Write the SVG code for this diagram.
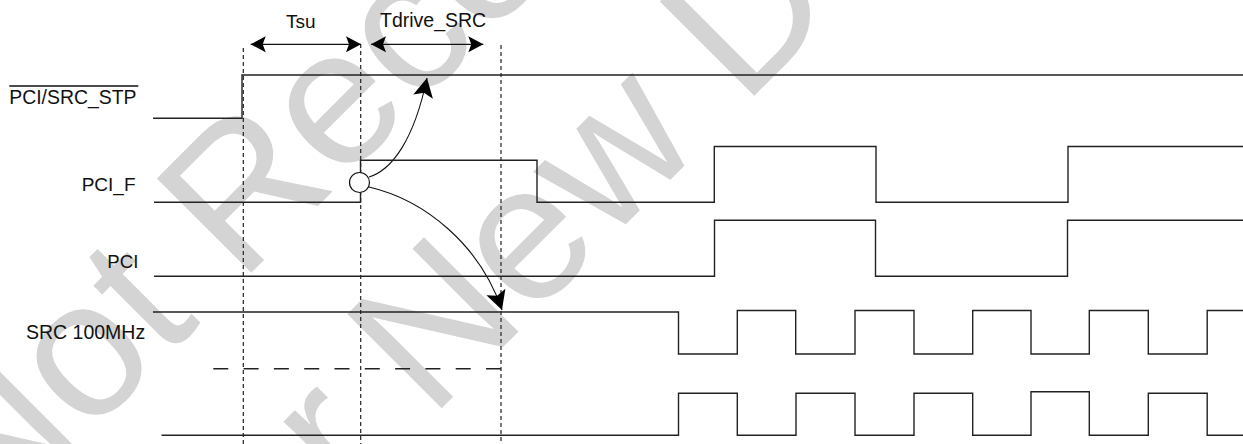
<svg xmlns="http://www.w3.org/2000/svg" width="1243" height="444" viewBox="0 0 1243 444">
<style>
.wm{font-family:"Liberation Sans",Arial,sans-serif;font-size:194px;fill:#d4d4d4}
.lbl{font-family:"Liberation Sans",Arial,sans-serif;font-size:19px;fill:#111}
.sig{fill:none;stroke:#222;stroke-width:1.4}
.grid{fill:none;stroke:#222;stroke-width:1.2;stroke-dasharray:4 3}
.dash{fill:none;stroke:#222;stroke-width:1.4;stroke-dasharray:15 15.3}
.dim{fill:none;stroke:#111;stroke-width:1.3}
.cur{fill:none;stroke:#111;stroke-width:1.1}
</style>
<defs>
<marker id="ah" viewBox="-17 -9 18 18" refX="0" refY="0" markerWidth="18" markerHeight="18" markerUnits="userSpaceOnUse" orient="auto-start-reverse" overflow="visible">
<path d="M0,0 L-15,-8 L-12,0 L-15,8 Z" fill="#000"/>
</marker>
<marker id="ahc" viewBox="-21 -11 22 22" refX="0" refY="0" markerWidth="22" markerHeight="22" markerUnits="userSpaceOnUse" orient="auto" overflow="visible">
<path d="M0,0 L-19,-10 L-15,0 L-19,10 Z" fill="#000"/>
</marker>
</defs>
<rect width="1243" height="444" fill="#fff"/>
<g id="watermark">
<text class="wm" transform="translate(-11.7,535.7) rotate(-45)">Not Recommended</text>
<text class="wm" transform="translate(232.3,617.7) rotate(-45)">for New Design</text>
</g>
<g id="connectors">
<line class="grid" x1="243.3" y1="48" x2="243.3" y2="444"/>
<line class="grid" x1="360.7" y1="44" x2="360.7" y2="444"/>
<line class="grid" x1="501" y1="45" x2="501" y2="444"/>
<path class="dash" d="M213.3,368.7 H501"/>
<line class="dim" x1="250.7" y1="44.3" x2="361" y2="44.3" marker-start="url(#ah)" marker-end="url(#ah)"/>
<line class="dim" x1="371" y1="44.3" x2="483.3" y2="44.3" marker-start="url(#ah)" marker-end="url(#ah)"/>
<path class="cur" d="M369,177 C392,170 414,140 427,78" marker-end="url(#ahc)"/>
<path class="cur" d="M369,187 C425,200 480,245 502,310" marker-end="url(#ahc)"/>
</g>
<g id="label-tsu"><text class="lbl" x="286" y="28.3" font-size="18.5">Tsu</text></g>
<g id="label-tdrive"><text class="lbl" x="380" y="27" style="font-size:19.5px">Tdrive_SRC</text></g>
<g id="sig-stp">
<text class="lbl" x="9.3" y="104" style="font-size:19.4px">PCI/SRC_STP</text>
<line x1="9.3" y1="86" x2="138.3" y2="86" stroke="#111" stroke-width="1.3"/>
<path class="sig" d="M153,118.3 H242 V75 H1243"/>
</g>
<g id="sig-pcif">
<text class="lbl" x="81.7" y="190.7">PCI_F</text>
<path class="sig" d="M154,202.3 H360.5 V160.3 H537 V202.3 H714.3 V146.5 H876 V202.3 H1068 V146.5 H1243"/>
<circle cx="359.5" cy="182.5" r="10" fill="#fff" stroke="#111" stroke-width="1.2"/>
</g>
<g id="sig-pci">
<text class="lbl" x="107.3" y="268.3" style="font-size:18.6px">PCI</text>
<path class="sig" d="M154,276.3 H714.5 V220.3 H875.5 V276.3 H1067.5 V220.3 H1243"/>
</g>
<g id="sig-src">
<text class="lbl" x="26" y="339.3" style="font-size:19.5px">SRC 100MHz</text>
<path class="sig" d="M153,312 H678.5 V354 H737.3 V310.5 H795.7 V354 H855 V310.5 H914 V354 H972.7 V310.5 H1031 V354 H1089.3 V310.5 H1148.3 V354 H1207.2 V310.5 H1243"/>
</g>
<g id="sig-src-b">
<path class="sig" d="M161.5,435.3 H678.5 V393.3 H737.3 V435.3 H796 V393.3 H855 V435.3 H914 V393.3 H972.7 V435.3 H1031 V391.7 H1089.3 V435.3 H1148.3 V393.3 H1207.2 V435.3 H1243"/>
</g>
</svg>
